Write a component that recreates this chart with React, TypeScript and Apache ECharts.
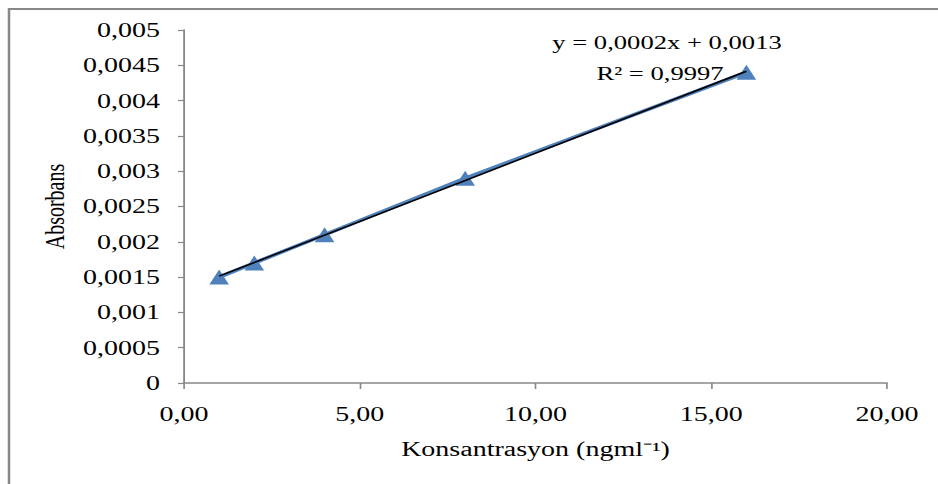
import React, { useEffect, useRef } from "react";
import * as echarts from "echarts";

const concentrations = [1, 2, 4, 8, 16];
const absorbances = [0.0015, 0.0017, 0.0021, 0.0029, 0.0044];
const equationText = "y = 0,0002x + 0,0013";
const r2Text = "R² = 0,9997";
const xAxisName = "Konsantrasyon (ngml⁻¹)";
const yAxisName = "Absorbans";

const STRETCH = 1.4;
const PAGE_W = 938;
const PAGE_H = 484;

function linearFit(xs: number[], ys: number[]) {
  const n = xs.length;
  const mx = xs.reduce((a, b) => a + b, 0) / n;
  const my = ys.reduce((a, b) => a + b, 0) / n;
  let sxy = 0;
  let sxx = 0;
  for (let i = 0; i < n; i++) {
    sxy += (xs[i] - mx) * (ys[i] - my);
    sxx += (xs[i] - mx) * (xs[i] - mx);
  }
  const slope = sxy / sxx;
  return { slope, intercept: my - slope * mx };
}

export default function App() {
  const ref = useRef<HTMLDivElement>(null);
  useEffect(() => {
    if (!ref.current) return;
    const chart = echarts.init(ref.current, null, { renderer: "svg" });
    const fit = linearFit(concentrations, absorbances);
    const x0 = concentrations[0];
    const x1 = concentrations[concentrations.length - 1];
    const font = "'Liberation Serif', 'Times New Roman', serif";
    const s = (px: number) => px / STRETCH;
    chart.setOption({
      animation: false,
      backgroundColor: "#fff",
      grid: { left: s(184), right: s(PAGE_W - 887), top: 30, bottom: PAGE_H - 383 },
      xAxis: {
        type: "value",
        min: 0,
        max: 20,
        interval: 5,
        name: xAxisName,
        nameLocation: "middle",
        nameGap: 56,
        nameTextStyle: { fontFamily: font, fontSize: 20, color: "#000" },
        axisLine: { show: true, lineStyle: { color: "#888", width: 1.5 } },
        axisTick: { show: true, length: 6, lineStyle: { color: "#888", width: 1.2 } },
        splitLine: { show: false },
        axisLabel: {
          fontFamily: font,
          fontSize: 20,
          color: "#000",
          margin: 21,
          formatter: (v: number) => v.toFixed(2).replace(".", ","),
        },
      },
      yAxis: {
        type: "value",
        min: 0,
        max: 0.005,
        interval: 0.0005,
        name: yAxisName,
        nameLocation: "middle",
        nameGap: 80,
        nameRotate: 90,
        nameTextStyle: { fontFamily: font, fontSize: 20, color: "#000" },
        axisLine: { show: true, lineStyle: { color: "#888", width: 1.3 } },
        axisTick: { show: true, length: s(6), lineStyle: { color: "#888", width: 1.2 } },
        splitLine: { show: false },
        axisLabel: {
          fontFamily: font,
          fontSize: 20,
          color: "#000",
          margin: s(24),
          formatter: (v: number) => String(Number(v.toFixed(4))).replace(".", ","),
        },
      },
      graphic: [
        {
          type: "rect",
          shape: { x: s(9), y: 9, width: 1200, height: 1000 },
          style: { fill: "none", stroke: "#888", lineWidth: 1.8 },
          silent: true,
        },
        {
          type: "text",
          x: s(667),
          y: 42,
          style: {
            text: equationText,
            font: `19px ${font}`,
            fill: "#000",
            align: "center",
            verticalAlign: "middle",
          },
        },
        {
          type: "text",
          x: s(660),
          y: 73,
          style: {
            text: r2Text,
            font: `19px ${font}`,
            fill: "#000",
            align: "center",
            verticalAlign: "middle",
          },
        },
      ],
      series: [
        {
          type: "line",
          data: concentrations.map((x, i) => [x, absorbances[i]]),
          symbol: "triangle",
          symbolSize: [14, 15],
          itemStyle: { color: "#4F81BD" },
          lineStyle: { color: "#4F81BD", width: 3.5 },
          z: 2,
        },
        {
          type: "line",
          data: [
            [x0, fit.intercept + fit.slope * x0],
            [x1, fit.intercept + fit.slope * x1],
          ],
          symbol: "none",
          lineStyle: { color: "#000", width: 1.5 },
          z: 3,
        },
      ],
    });
    return () => chart.dispose();
  }, []);
  return (
    <div
      style={{
        position: "fixed",
        left: 0,
        top: 0,
        width: PAGE_W,
        height: PAGE_H,
        overflow: "hidden",
        background: "#fff",
      }}
    >
      <div
        ref={ref}
        style={{
          width: PAGE_W / STRETCH,
          height: PAGE_H,
          transform: `scaleX(${STRETCH})`,
          transformOrigin: "0 0",
        }}
      />
    </div>
  );
}
